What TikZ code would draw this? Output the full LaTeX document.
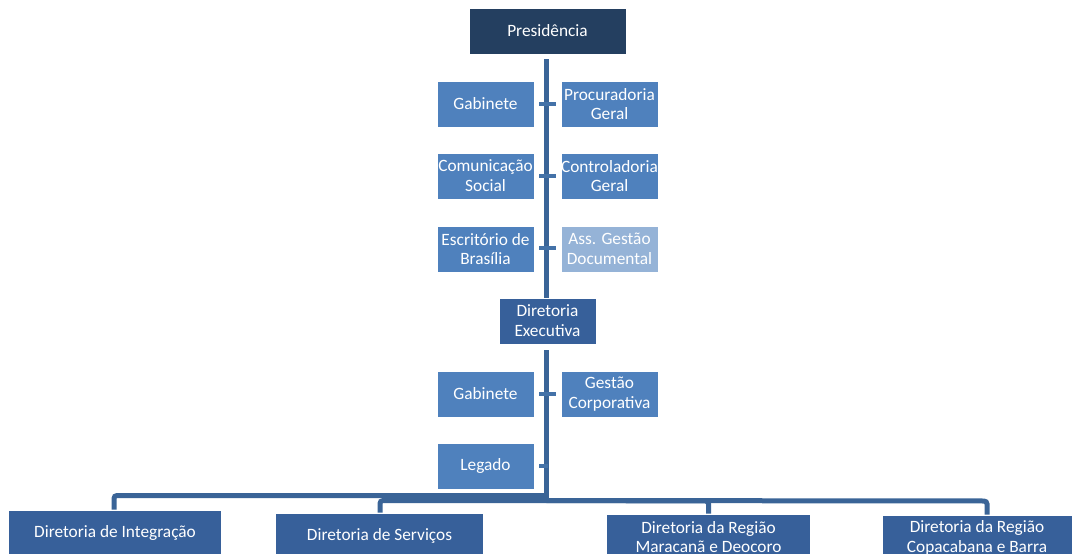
\documentclass[tikz,border=0pt]{standalone}
\usepackage{fontspec}
\setmainfont{Carlito}
\definecolor{presblue}{HTML}{243F60}
\definecolor{dirblue}{HTML}{37609A}
\definecolor{unitblue}{HTML}{4F81BD}
\definecolor{paleblue}{HTML}{95B3D7}
\definecolor{trunkblue}{HTML}{3A6497}
\definecolor{tickblue}{HTML}{4472A8}
\tikzset{
  box/.style={rectangle, draw=white, line width=0.6pt, text=white, align=center,
    inner sep=0pt, font=\fontsize{17.3}{19.8}\selectfont},
  unitbox/.style={box, fill=unitblue, minimum width=97pt, minimum height=46pt},
  trunk/.style={draw=trunkblue, line width=5pt},
  tick/.style={draw=tickblue, line width=4pt},
  branch/.style={draw=trunkblue, line width=5pt, rounded corners=3pt},
}
\begin{document}
\begin{tikzpicture}[x=1pt,y=-1pt]
\useasboundingbox (0,0) rectangle (1074,554);
\clip (0,0) rectangle (1074,554);
\fill[white] (0,0) rectangle (1074,554);

% coordinates of trunk
\coordinate (t0) at (546.5,59);
\coordinate (t1) at (546.5,298);
\coordinate (t2) at (546.5,350);
\coordinate (t3) at (546.5,503);

\draw[trunk] (t0) -- (t1);
\draw[trunk] (t2) -- (t3);

% ticks
\coordinate (k1l) at (539,104); \coordinate (k1r) at (556,104);
\coordinate (k2l) at (539,176); \coordinate (k2r) at (556,176);
\coordinate (k3l) at (539,248); \coordinate (k3r) at (556,248);
\coordinate (k4l) at (539,394); \coordinate (k4r) at (556,394);
\coordinate (k5l) at (539,466); \coordinate (k5r) at (548,466);
\draw[tick] (k1l) -- (k1r);
\draw[tick] (k2l) -- (k2r);
\draw[tick] (k3l) -- (k3r);
\draw[tick] (k4l) -- (k4r);
\draw[tick] (k5l) -- (k5r);

% top boxes
\node[box, fill=presblue, minimum width=157pt, minimum height=46pt] (pres) at (547.5,31) {Presidência};

\node[unitbox] (gab1) at (485.5,104) {Gabinete};
\node[unitbox] (proc) at (609.5,104) {Procuradoria\\Geral};
\node[unitbox] (com) at (485.5,176) {Comunicação\\Social};
\node[unitbox] (cont) at (609.5,176) {Controladoria\\Geral};
\node[unitbox] (esc) at (485.5,249) {Escritório de\\Brasília};
\node[unitbox, fill=paleblue] (ass) at (609.5,249) {Ass. Gestão\\Documental};

\node[box, fill=dirblue, minimum width=97pt, minimum height=46pt] (dex) at (547.5,321) {Diretoria\\Executiva};

\node[unitbox] (gab2) at (485.5,394) {Gabinete};
\node[unitbox] (gest) at (609.5,394) {Gestão\\Corporativa};
\node[unitbox] (leg) at (485.5,466) {Legado};

% bottom boxes
\node[box, fill=dirblue, minimum width=213pt, minimum height=46pt] (dint) at (115,533) {Diretoria de Integração};
\node[box, fill=dirblue, minimum width=208pt, minimum height=46pt] (dser) at (379.5,536) {Diretoria de Serviços};
\node[box, fill=dirblue, minimum width=204pt, minimum height=46pt] (dmar) at (708.5,537) {Diretoria da Região\\Maracanã e Deocoro};
\node[box, fill=dirblue, minimum width=190pt, minimum height=46pt] (dcop) at (977,538) {Diretoria da Região\\Copacabana e Barra};

% branches
\coordinate (b0) at (546.5,495.5);
\coordinate (b1) at (546.5,500.5);
\draw[branch] (b0) -- (114,495.5) -- (dint.north -| 114,0);
\draw[branch] (b1) -- (380,500.5) -- (dser.north -| 380,0);
\draw[branch] (b1) -- (708.5,501) -- (dmar.north);
\draw[branch] (b1) -- (987,501) -- (dcop.north -| 987,0);
\end{tikzpicture}
\end{document}
